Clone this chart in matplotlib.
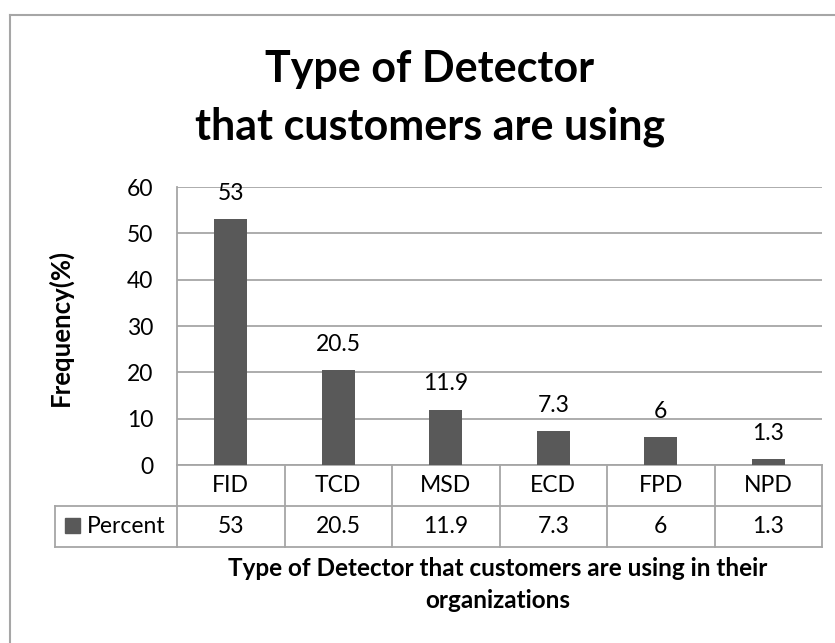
import matplotlib
matplotlib.use('Agg')
import matplotlib.pyplot as plt
from matplotlib.lines import Line2D
from matplotlib.patches import Rectangle

plt.rcParams['font.family'] = ['Lato', 'DejaVu Sans']

# data
detectors = ['FID', 'TCD', 'MSD', 'ECD', 'FPD', 'NPD']
percent = [53, 20.5, 11.9, 7.3, 6, 1.3]
percent_labels = ['53', '20.5', '11.9', '7.3', '6', '1.3']
series_name = 'Percent'

bar_color = '#595959'
line_color = '#a6a6a6'


def main():
    fig = plt.figure(figsize=(8.35, 6.43), dpi=100)
    ax = fig.add_axes([0.2120, 0.2768, 0.7725, 0.4323])

    x = list(range(len(detectors)))
    ax.bar(x, percent, width=0.31, color=bar_color, zorder=3)
    ax.set_xlim(-0.5, len(detectors) - 0.5)
    ax.set_ylim(0, 60)
    ax.set_yticks(range(0, 61, 10))
    ax.yaxis.grid(True, color=line_color, linewidth=1.3, zorder=0)
    ax.set_xticks([])
    ax.tick_params(axis='y', length=0, pad=17, labelsize=16.5)
    for s in ['top', 'right', 'bottom']:
        ax.spines[s].set_visible(False)
    ax.spines['left'].set_color(line_color)
    ax.spines['left'].set_linewidth(1.3)

    # value labels above the bars
    for xi, v, lab in zip(x, percent, percent_labels):
        ax.annotate(lab, (xi, v), xytext=(0, 18.7), textcoords='offset points',
                    ha='center', va='center', fontsize=16.5)

    # data table below the plot
    tr = ax.get_xaxis_transform()
    r1, r2 = -0.1475, -0.295
    left_edge = -0.189
    kw = dict(color=line_color, linewidth=1.3, clip_on=False)
    ax.plot([-0.5, len(detectors) - 0.5], [0, 0], transform=tr, **kw)
    for y in (r1, r2):
        ax.plot([0, 1], [y, y], transform=ax.transAxes, **kw)
        ax.plot([left_edge, 0], [y, y], transform=ax.transAxes, **kw)
    ax.plot([left_edge, left_edge], [r1, r2], transform=ax.transAxes, **kw)
    for i in range(len(detectors) + 1):
        ax.plot([i - 0.5, i - 0.5], [0, r2], transform=tr, **kw)
    for xi, name, lab in zip(x, detectors, percent_labels):
        ax.text(xi, r1 / 2, name, transform=tr, ha='center', va='center', fontsize=16.5)
        ax.text(xi, (r1 + r2) / 2, lab, transform=tr, ha='center', va='center', fontsize=16.5)
    ax.add_patch(Rectangle((-0.1736, -0.2446), 0.0233, 0.054, transform=ax.transAxes,
                           color=bar_color, clip_on=False))
    ax.text(-0.1395, (r1 + r2) / 2, series_name, transform=ax.transAxes,
            ha='left', va='center', fontsize=16.5)

    # titles
    fig.text(0.515, 0.8725, 'Type of Detector', ha='center', va='baseline',
             fontsize=31, fontweight='bold')
    fig.text(0.515, 0.7838, 'that customers are using', ha='center', va='baseline',
             fontsize=31, fontweight='bold')
    fig.text(0.0719, 0.4914, 'Frequency(%)', rotation=90, ha='center', va='center',
             fontsize=18.5, fontweight='bold')
    fig.text(0.5964, 0.1042, 'Type of Detector that customers are using in their',
             ha='center', va='baseline', fontsize=17.5, fontweight='bold')
    fig.text(0.5964, 0.0540, 'organizations', ha='center', va='baseline',
             fontsize=17.5, fontweight='bold')

    # chart frame (left and top edges)
    fig.add_artist(Line2D([10 / 835, 10 / 835], [0, 1 - 15 / 643], color=line_color,
                          linewidth=1.5, transform=fig.transFigure))
    fig.add_artist(Line2D([10 / 835, 1], [1 - 15 / 643, 1 - 15 / 643], color=line_color,
                          linewidth=1.5, transform=fig.transFigure))

    fig.savefig('out.png', dpi=100)


if __name__ == '__main__':
    main()
